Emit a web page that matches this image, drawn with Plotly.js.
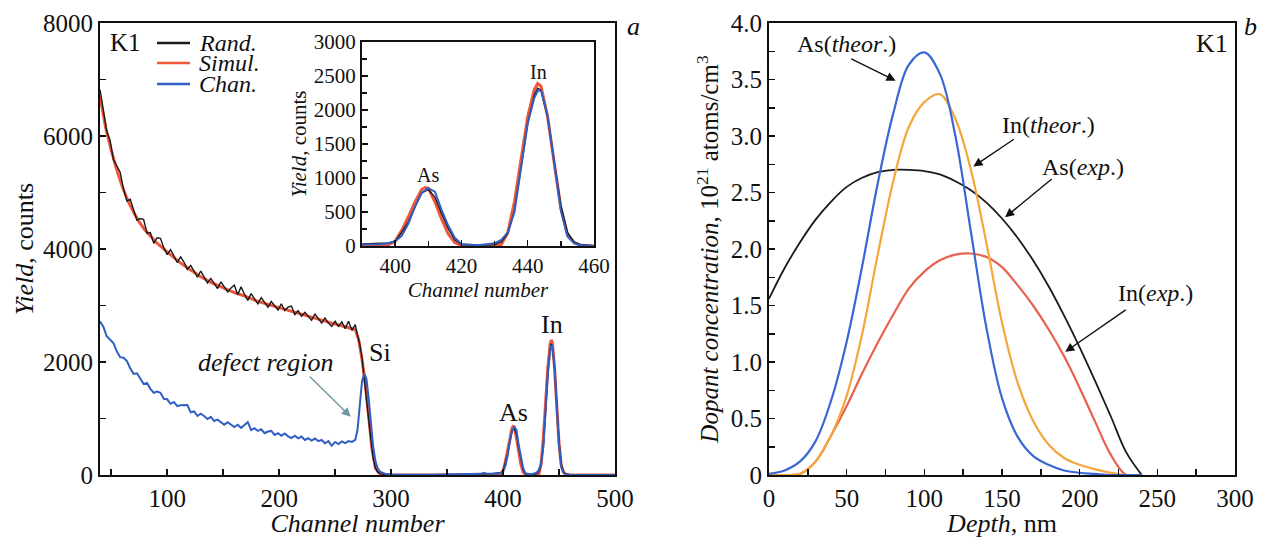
<!DOCTYPE html>
<html>
<head>
<meta charset="utf-8">
<script src="https://cdn.plot.ly/plotly-3.0.1.min.js"></script>
<style>html,body{margin:0;padding:0;background:#fff;}#chart{width:1266px;height:538px;}</style>
</head>
<body>
<div id="chart"></div>
<script>
// ---------- Panel a: RBS spectra ----------
const randChannel = [40,43,46,49,52,55,58,61,64,67,70,73,76,79,82,85,88,91,94,97,100,103,106,109,112,115,118,121,124,127,130,133,136,139,142,145,148,151,154,157,160,163,166,169,172,175,178,181,184,187,190,193,196,199,202,205,208,211,214,217,220,223,226,229,232,235,238,241,244,247,250,253,256,259,262,265,268,270,272,274,276,278,280,282,284,286,288,292,300,320,350,380,385,390,395,398,400,402,404,406,408,410,412,414,416,418,420,425,430,432,434,436,438,440,442,443,444,446,448,450,452,454,456,460,480,500];
const randYield = [6820,6430,6090,5920,5580,5470,5360,5060,4850,4880,4690,4510,4540,4520,4280,4290,4100,4200,4190,4020,3900,3990,3880,3760,3860,3770,3640,3710,3610,3500,3610,3510,3400,3480,3390,3300,3420,3320,3240,3310,3360,3190,3330,3200,3090,3210,3110,3030,3140,3060,2970,3070,2990,2920,3030,2910,2970,2990,2840,2910,2810,2880,2810,2740,2850,2770,2690,2780,2690,2630,2720,2630,2710,2590,2720,2560,2660,2480,2320,2080,1750,1380,980,620,300,130,50,15,5,0,5,10,20,25,30,45,70,200,360,580,780,830,720,480,260,90,20,10,20,60,180,520,1150,1800,2220,2320,2290,1900,1250,600,200,60,20,5,0,0];

const simulChannel = [40,45,50,55,60,65,70,75,80,90,100,110,120,130,140,150,160,170,180,190,200,210,220,230,240,250,260,268,271,274,277,280,283,286,290,300,395,398,400,402,404,406,408,409,410,412,414,416,418,420,425,430,432,434,436,438,440,442,443,444,446,448,450,452,454,456,460,500];
const simulYield = [6700,6150,5750,5400,5100,4850,4650,4480,4340,4120,3950,3780,3640,3510,3400,3310,3230,3160,3080,3020,2960,2900,2840,2780,2720,2670,2620,2570,2400,2050,1600,1000,450,120,20,0,0,20,70,230,430,650,830,860,850,650,400,180,50,10,0,0,20,200,650,1300,1900,2300,2390,2350,1900,1220,560,170,50,10,0,0];

const chanChannel = [40,43,46,49,52,55,58,61,64,67,70,73,76,79,82,85,88,91,94,97,100,103,106,109,112,115,118,121,124,127,130,133,136,139,142,145,148,151,154,157,160,163,166,169,172,175,178,181,184,187,190,193,196,199,202,205,208,211,214,217,220,223,226,229,232,235,238,241,244,247,250,253,256,259,262,265,268,270,272,274,276,278,280,282,284,286,288,290,295,300,340,380,383,386,390,395,398,400,402,404,406,408,410,412,414,416,418,420,425,430,432,434,436,438,440,442,443,444,446,448,450,452,454,456,460,500];
const chanYield = [2720,2625,2455,2400,2335,2190,2085,2075,2015,1890,1790,1800,1705,1610,1630,1525,1455,1475,1455,1350,1340,1260,1290,1220,1235,1240,1240,1110,1125,1045,1085,1045,990,1030,955,980,930,890,935,900,850,890,835,885,935,795,830,780,810,740,770,780,710,740,695,735,685,655,695,650,680,620,650,608,645,600,620,562,600,518,585,547,595,563,600,585,620,800,1250,1650,1800,1700,1350,900,500,250,120,60,20,10,5,20,40,20,20,25,40,70,150,330,580,780,850,800,530,300,120,30,10,40,90,200,500,1150,1800,2180,2280,2290,1920,1220,520,140,40,10,0,0];

// ---------- Panel b: depth profiles ----------
const depthNm = [0,10,20,30,40,50,60,70,80,90,100,110,120,130,140,150,160,170,180,190,200,210,220,230,240];
const asTheor = [0.01,0.04,0.12,0.30,0.66,1.18,1.85,2.58,3.20,3.63,3.74,3.55,3.00,2.15,1.30,0.68,0.34,0.17,0.09,0.04,0.02,0.01,0,0,0];
const inTheor = [0,0,0.01,0.12,0.35,0.70,1.25,1.95,2.60,3.08,3.30,3.37,3.15,2.70,2.05,1.35,0.82,0.48,0.27,0.15,0.09,0.05,0.02,0,0];
const inExp = [0,0,0.01,0.12,0.35,0.61,0.90,1.17,1.42,1.65,1.80,1.90,1.95,1.96,1.93,1.84,1.68,1.50,1.29,1.05,0.77,0.47,0.18,0,0];
const asExp = [1.56,1.83,2.06,2.26,2.42,2.55,2.63,2.68,2.70,2.70,2.69,2.66,2.60,2.52,2.41,2.27,2.10,1.90,1.67,1.41,1.13,0.83,0.52,0.20,0];

const serif = "Liberation Serif";
const black = "#1a1a1a", red = "#f0563a", blue = "#2f5fc4";
const bBlue = "#3a67d4", bOrange = "#f5a63a", bRed = "#e8604f";

const traces = [];
function spectra(xa, ya) {
  traces.push({x: simulChannel, y: simulYield, xaxis: xa, yaxis: ya, mode: "lines", name: "Simul.", line: {color: red, width: 3}, showlegend: false});
  traces.push({x: randChannel, y: randYield, xaxis: xa, yaxis: ya, mode: "lines", name: "Rand.", line: {color: black, width: 1.4}, showlegend: false});
  traces.push({x: chanChannel, y: chanYield, xaxis: xa, yaxis: ya, mode: "lines", name: "Chan.", line: {color: blue, width: 2}, showlegend: false});
}
spectra("x", "y");
spectra("x2", "y2");
traces.push({x: depthNm, y: asExp, xaxis: "x3", yaxis: "y3", mode: "lines", line: {color: black, width: 1.8, shape: "spline"}, name: "As(exp.)", showlegend: false});
traces.push({x: depthNm, y: inExp, xaxis: "x3", yaxis: "y3", mode: "lines", line: {color: bRed, width: 2.2, shape: "spline"}, name: "In(exp.)", showlegend: false});
traces.push({x: depthNm, y: inTheor, xaxis: "x3", yaxis: "y3", mode: "lines", line: {color: bOrange, width: 2.2, shape: "spline"}, name: "In(theor.)", showlegend: false});
traces.push({x: depthNm, y: asTheor, xaxis: "x3", yaxis: "y3", mode: "lines", line: {color: bBlue, width: 2.2, shape: "spline"}, name: "As(theor.)", showlegend: false});

function ax(extra) {
  return Object.assign({
    showline: true, mirror: true, linecolor: "#111", linewidth: 2,
    ticks: "inside", ticklen: 6, tickwidth: 1.5, tickcolor: "#111",
    showgrid: false, zeroline: false, automargin: false,
    tickfont: {family: serif, size: 25, color: "#111"}
  }, extra);
}
const W = 1266, H = 538;
const px = v => v / W, py = v => 1 - v / H;

const yTicksB = [0,0.5,1,1.5,2,2.5,3,3.5,4];
const yTextB = ["0","0.5","1.0","1.5","2.0","2.5","3.0","3.5","4.0"];

const layout = {
  width: W, height: H,
  margin: {l: 0, r: 0, t: 0, b: 0},
  paper_bgcolor: "#fff", plot_bgcolor: "rgba(0,0,0,0)",
  font: {family: serif, color: "#111"},
  showlegend: false,
  xaxis: ax({domain: [px(100), px(615)], range: [40, 500], anchor: "y", tick0: 0, dtick: 100,
    minor: {dtick: 50, ticks: "inside", ticklen: 6, tickcolor: "#111"},
    title: {text: "<i>Channel number</i>", font: {family: serif, size: 26}, standoff: 5}}),
  yaxis: ax({domain: [py(475), py(23)], range: [0, 8000], anchor: "x", dtick: 2000,
    minor: {dtick: 1000, ticks: "inside", ticklen: 6, tickcolor: "#111"},
    title: {text: "<i>Yield</i>, counts", font: {family: serif, size: 26}, standoff: 2}}),
  xaxis2: ax({domain: [px(362), px(594)], range: [390, 460], anchor: "y2", tick0: 0, dtick: 20,
    tickfont: {family: serif, size: 21, color: "#111"},
    minor: {dtick: 10, ticks: "inside", ticklen: 5, tickcolor: "#111"},
    title: {text: "<i>Channel number</i>", font: {family: serif, size: 21}, standoff: 1}}),
  yaxis2: ax({domain: [py(246), py(42)], range: [0, 3000], anchor: "x2", dtick: 500,
    tickfont: {family: serif, size: 21, color: "#111"},
    minor: {dtick: 250, ticks: "inside", ticklen: 5, tickcolor: "#111"},
    title: {text: "<i>Yield</i>, counts", font: {family: serif, size: 21}, standoff: 1}}),
  xaxis3: ax({domain: [px(769), px(1235)], range: [0, 300], anchor: "y3", tick0: 0, dtick: 50,
    minor: {dtick: 25, ticks: "inside", ticklen: 6, tickcolor: "#111"},
    title: {text: "<i>Depth</i>, nm", font: {family: serif, size: 26}, standoff: 5}}),
  yaxis3: ax({domain: [py(475), py(23)], range: [0, 4], anchor: "x3", tickvals: yTicksB, ticktext: yTextB,
    minor: {dtick: 0.25, ticks: "inside", ticklen: 6, tickcolor: "#111"},
    title: {text: "<i>Dopant concentration</i>, 10<sup>21</sup> atoms/cm<sup>3</sup>", font: {family: serif, size: 25}, standoff: 5}}),
  shapes: [
    {type: "rect", xref: "x2 domain", yref: "y2 domain", x0: 0, x1: 1, y0: 0, y1: 1, fillcolor: "rgba(255,255,255,1)", line: {width: 0}, layer: "below"},
    {type: "line", xref: "paper", yref: "paper", x0: px(157), x1: px(190), y0: py(43), y1: py(43), line: {color: black, width: 2.5}},
    {type: "line", xref: "paper", yref: "paper", x0: px(157), x1: px(190), y0: py(63), y1: py(63), line: {color: red, width: 2.5}},
    {type: "line", xref: "paper", yref: "paper", x0: px(157), x1: px(190), y0: py(84), y1: py(84), line: {color: blue, width: 2.5}}
  ],
  annotations: []
};

const A = layout.annotations;
function txt(text, x, y, xref, yref, size, extra) {
  A.push(Object.assign({text: text, x: x, y: y, xref: xref, yref: yref, showarrow: false,
    xanchor: "center", yanchor: "middle",
    font: {family: serif, size: size, color: "#111"}}, extra || {}));
}
function arrow(x, y, axv, ayv, xr, yr, color) {
  A.push({text: "", x: x, y: y, ax: axv, ay: ayv, xref: xr, yref: yr, axref: xr, ayref: yr,
    showarrow: true, arrowhead: 2, arrowsize: 1.3, arrowwidth: 1.4, arrowcolor: color || "#111"});
}
// legend & labels panel a
txt("K1", px(125), py(43), "paper", "paper", 25);
txt("<i>Rand.</i>", px(197), py(43), "paper", "paper", 24, {xanchor: "left"});
txt("<i>Simul.</i>", px(197), py(63), "paper", "paper", 24, {xanchor: "left"});
txt("<i>Chan.</i>", px(197), py(84), "paper", "paper", 24, {xanchor: "left"});
txt("<i>a</i>", px(633), py(27), "paper", "paper", 26);
txt("Si", 290, 2160, "x", "y", 26);
txt("<i>defect region</i>", 188, 2000, "x", "y", 26);
arrow(264, 1030, 226, 1770, "x", "y", "#6f98a0");
txt("As", 409, 1100, "x", "y", 26);
txt("In", 443.6, 2660, "x", "y", 26);
txt("As", 410, 1050, "x2", "y2", 20);
txt("In", 443.4, 2560, "x2", "y2", 20);
// panel b
txt("<i>b</i>", px(1250), py(27), "paper", "paper", 26);
txt("K1", 285, 3.82, "x3", "y3", 26);
txt("As(<i>theor</i>.)", 50, 3.81, "x3", "y3", 24);
arrow(81.5, 3.49, 52, 3.69, "x3", "y3");
txt("In(<i>theor</i>.)", 180, 3.10, "x3", "y3", 24);
arrow(131.6, 2.73, 158.6, 2.98, "x3", "y3");
txt("As(<i>exp</i>.)", 202, 2.73, "x3", "y3", 24);
arrow(152, 2.28, 183, 2.63, "x3", "y3");
txt("In(<i>exp</i>.)", 248.6, 1.61, "x3", "y3", 24);
arrow(190.7, 1.09, 230.6, 1.47, "x3", "y3");

Plotly.newPlot("chart", traces, layout, {displayModeBar: false, staticPlot: true});
</script>
</body>
</html>
